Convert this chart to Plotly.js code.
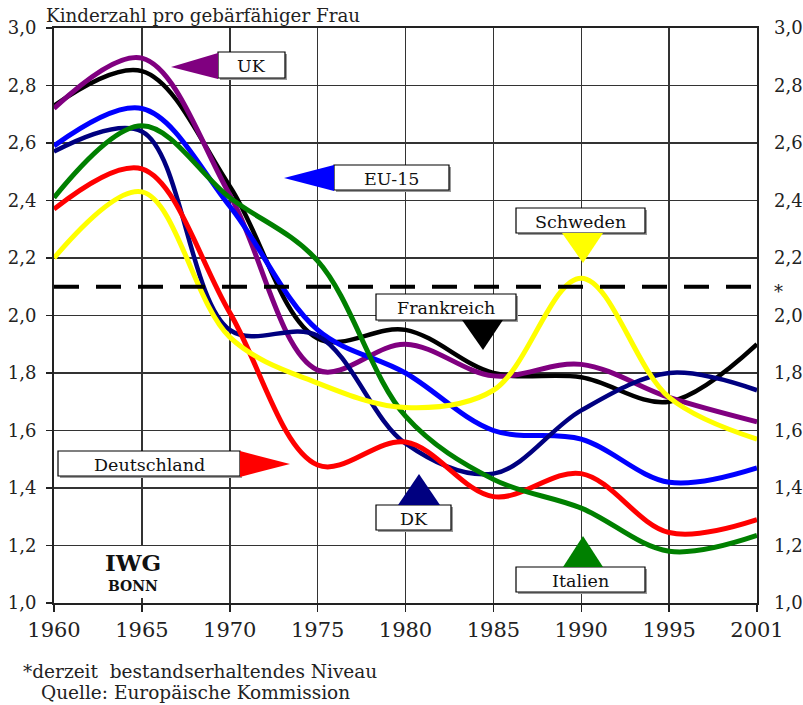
<!DOCTYPE html>
<html><head><meta charset="utf-8">
<script src="https://cdn.plot.ly/plotly-3.0.1.min.js"></script>
<style>body{margin:0;background:#fff}#chart{width:803px;height:705px}</style>
</head><body><div id="chart"></div>
<script>
// ---- data ----
const years = ['1960','1965','1970','1975','1980','1985','1990','1995','2001'];
const frankreich  = [2.73, 2.85, 2.45, 1.92, 1.95, 1.80, 1.785, 1.70, 1.90];
const uk          = [2.72, 2.895, 2.42, 1.81, 1.90, 1.79, 1.83, 1.715, 1.63];
const eu15        = [2.59, 2.72, 2.38, 1.95, 1.80, 1.60, 1.57, 1.42, 1.47];
const dk          = [2.57, 2.64, 1.95, 1.93, 1.555, 1.45, 1.67, 1.80, 1.74];
const deutschland = [2.37, 2.51, 2.01, 1.48, 1.56, 1.37, 1.45, 1.245, 1.29];
const italien     = [2.41, 2.66, 2.41, 2.19, 1.65, 1.43, 1.33, 1.18, 1.235];
const schweden    = [2.20, 2.43, 1.925, 1.765, 1.68, 1.74, 2.13, 1.715, 1.57];
const replacementYears = ['1960','2001'];
const replacementLevel = [2.1, 2.1];
const yTickVals = [1.0, 1.2, 1.4, 1.6, 1.8, 2.0, 2.2, 2.4, 2.6, 2.8, 3.0];

// ---- layout helpers ----
const W=803,H=705,L=54,R=46,T=28,B=102;
const pw=W-L-R, ph=H-T-B;
const px=x=>(x-L)/pw, py=y=>(H-B-y)/ph;
const FONT='DejaVu Serif';

const series = [
  {y: frankreich, c:'#000000', w:4.5, n:'Frankreich'},
  {y: uk, c:'#800080', w:5, n:'UK'},
  {y: eu15, c:'#0000FF', w:5, n:'EU-15'},
  {y: dk, c:'#000080', w:4.5, n:'DK'},
  {y: deutschland, c:'#FF0000', w:5, n:'Deutschland'},
  {y: italien, c:'#008000', w:5, n:'Italien'},
  {y: schweden, c:'#FFFF00', w:5, n:'Schweden'}
];
const traces = series.map(s=>({x:years,y:s.y,type:'scatter',mode:'lines',name:s.n,
  line:{color:s.c,width:s.w,shape:'spline',smoothing:1},hoverinfo:'skip'}));
traces.push({x:replacementYears,y:replacementLevel,yaxis:'y2',type:'scatter',mode:'lines',
  line:{color:'#000',width:4,dash:'25px,17px'},hoverinfo:'skip'});

const shapes=[], annotations=[];
function box(x0,y0,x1,y1,text){
  shapes.push({type:'rect',xref:'paper',yref:'paper',x0:px(x0+2),x1:px(x1+2),y0:py(y1+2),y1:py(y0+2),fillcolor:'#9a9a9a',line:{width:0},layer:'above'});
  shapes.push({type:'rect',xref:'paper',yref:'paper',x0:px(x0),x1:px(x1),y0:py(y1),y1:py(y0),fillcolor:'#fff',line:{color:'#000',width:1.2},layer:'above'});
  annotations.push({xref:'paper',yref:'paper',x:px((x0+x1)/2),y:py((y0+y1)/2+1),text:text,showarrow:false,
    xanchor:'center',yanchor:'middle',font:{family:FONT,size:17.5,color:'#111'}});
}
function tri(pts,color){
  const path='M '+pts.map(p=>px(p[0]).toFixed(5)+','+py(p[1]).toFixed(5)).join(' L ')+' Z';
  shapes.push({type:'path',xref:'paper',yref:'paper',path:path,fillcolor:color,line:{width:0},layer:'above'});
}
box(218,52,285,78,'UK');            tri([[218,53],[218,79],[171,67]],'#800080');
box(334,165,449,190,'EU-15');        tri([[334,165],[334,191],[284,178]],'#0000FF');
box(516,208,645,233,'Schweden');     tri([[562,233],[603,233],[583,263]],'#FFFF00');
box(376,294,516,320,'Frankreich');   tri([[462,320],[503,320],[483,350]],'#000000');
box(376,505,451,530,'DK');           tri([[398,505],[440,505],[419,474]],'#000080');
box(516,567,645,592,'Italien');      tri([[563,567],[603,567],[583,536]],'#008000');
box(58,451,240,476,'Deutschland');   tri([[240,451],[240,477],[290,464]],'#FF0000');

function txt(x,y,text,size,anchor,opts){
  annotations.push(Object.assign({xref:'paper',yref:'paper',x:px(x),y:py(y),text:text,showarrow:false,
    xanchor:anchor,yanchor:'middle',font:{family:FONT,size:size,color:'#222'}},opts||{}));
}
txt(44,15,'Kinderzahl pro gebärfähiger Frau',18.3,'left');
txt(21,671,'*derzeit  bestandserhaltendes Niveau',18.5,'left');
txt(39,692,'Quelle: Europäische Kommission',18.5,'left');
txt(778,291,'*',18,'center');
shapes.push({type:'rect',xref:'paper',yref:'paper',x0:px(100),x1:px(166),y0:py(598),y1:py(546),fillcolor:'#fff',line:{width:0},layer:'above'});
txt(133,562,'<b>IWG</b>',23,'center',{font:{family:FONT,size:23,color:'#111'}});
txt(133,586,'<b>BONN</b>',14,'center',{font:{family:FONT,size:14,color:'#111'}});

const layout={
  width:W,height:H,margin:{l:L,r:R,t:T,b:B,pad:0},
  paper_bgcolor:'#fff',plot_bgcolor:'#fff',showlegend:false,separators:',.',
  xaxis:{type:'category',range:[0,8],showgrid:true,gridcolor:'#333',gridwidth:1.5,
    showline:true,linecolor:'#222',linewidth:2,mirror:true,ticks:'outside',ticklen:7,tickwidth:1.5,tickcolor:'#222',
    tickfont:{family:FONT,size:21,color:'#222'},zeroline:false,fixedrange:true},
  yaxis:{range:[1,3],tickvals:yTickVals,tickformat:'.1f',showgrid:true,gridcolor:'#333',gridwidth:1.5,
    showline:true,linecolor:'#222',linewidth:2,mirror:true,ticks:'outside',ticklen:6,tickwidth:1.5,tickcolor:'#222',
    ticklabelstandoff:6,tickfont:{family:FONT,size:18,color:'#222'},zeroline:false,fixedrange:true},
  yaxis2:{range:[1,3],tickvals:yTickVals,tickformat:'.1f',overlaying:'y',side:'right',showgrid:false,
    showline:false,ticks:'',ticklabelstandoff:16,tickfont:{family:FONT,size:18,color:'#222'},zeroline:false,fixedrange:true},
  shapes:shapes,annotations:annotations
};
Plotly.newPlot('chart',traces,layout,{staticPlot:true,displayModeBar:false});
</script></body></html>
